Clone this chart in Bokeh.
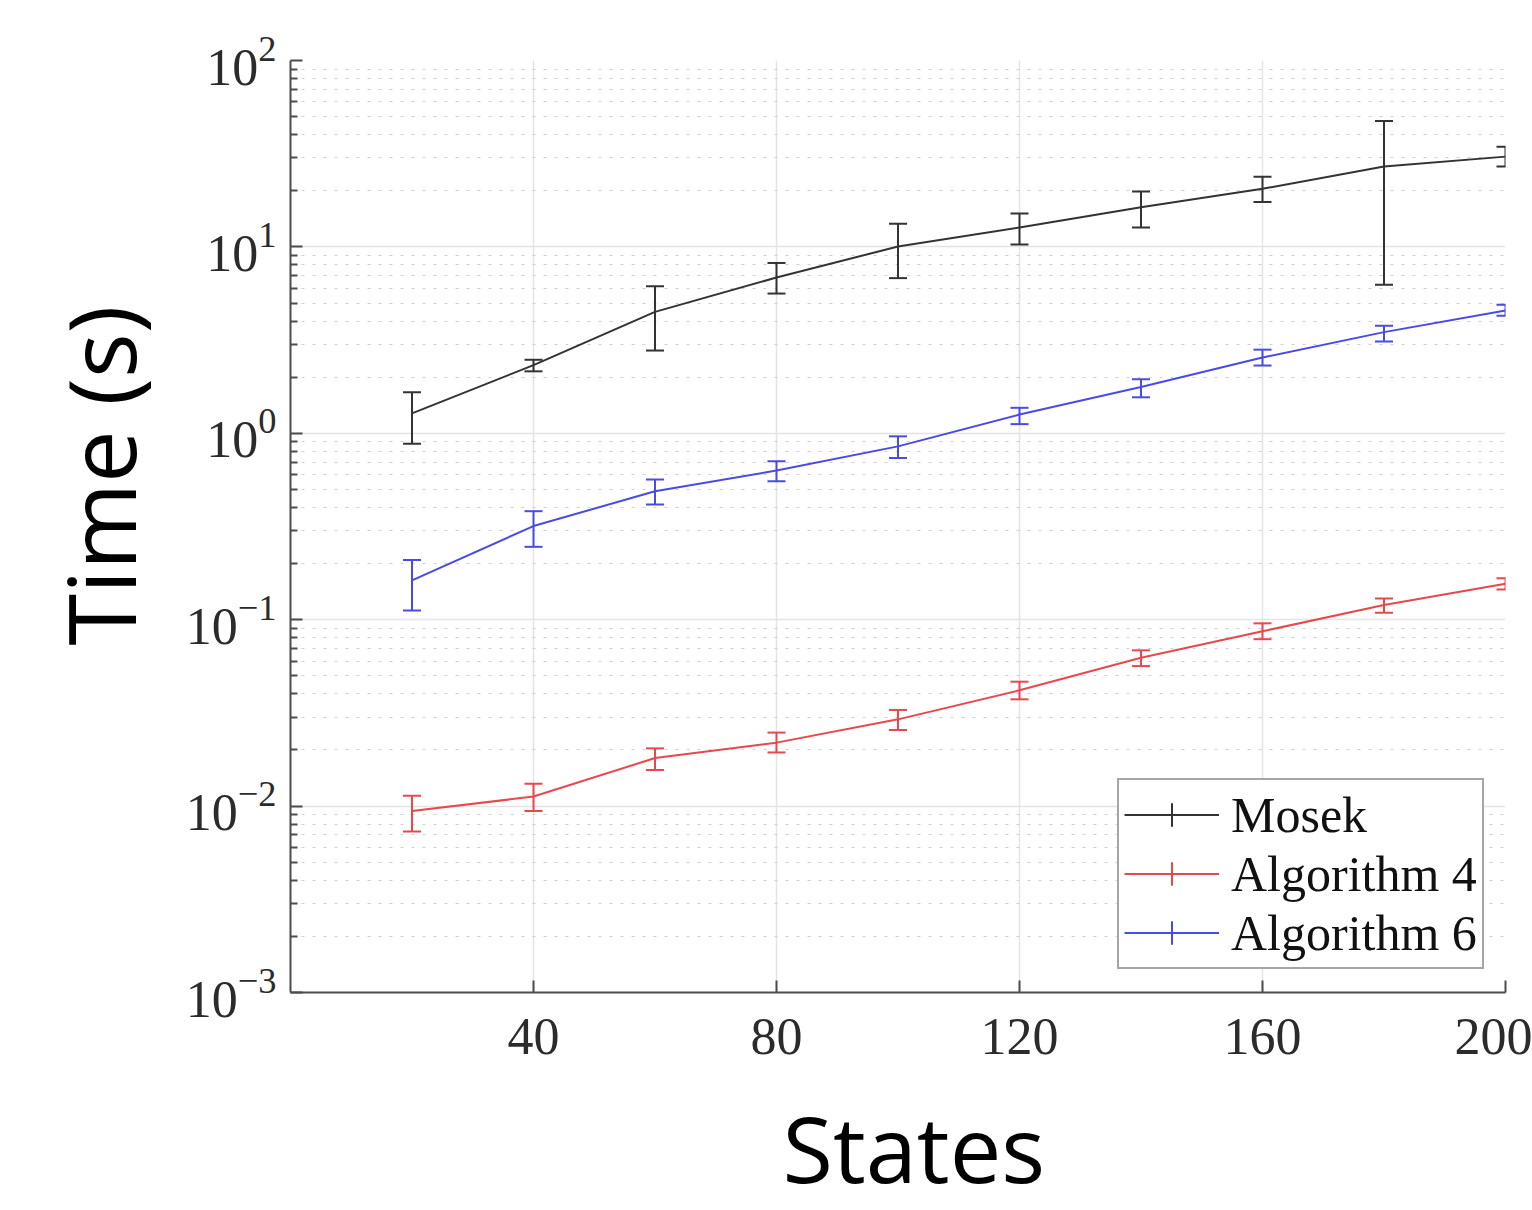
import numpy as np
from bokeh.plotting import figure
from bokeh.layouts import column
from bokeh.models import (ColumnDataSource, Whisker, TeeHead, Legend, LegendItem,
                          Label, Title, FixedTicker)
from bokeh.embed import file_html
from bokeh.resources import INLINE

# ---------------- data ----------------
states = [20, 40, 60, 80, 100, 120, 140, 160, 180, 200]

mosek = [1.28, 2.32, 4.48, 6.85, 10.05, 12.7, 16.3, 20.5, 27.0, 30.5]
mosek_lo = [0.88, 2.15, 2.78, 5.62, 6.8, 10.3, 12.7, 17.4, 6.27, 27.0]
mosek_hi = [1.66, 2.48, 6.15, 8.2, 13.3, 15.1, 19.8, 23.8, 47.4, 34.5]

alg4 = [0.0094, 0.01125, 0.0181, 0.0219, 0.0292, 0.0418, 0.0625, 0.0867, 0.1198, 0.156]
alg4_lo = [0.0073, 0.0094, 0.0156, 0.0194, 0.0256, 0.0374, 0.0564, 0.0786, 0.109, 0.145]
alg4_hi = [0.01135, 0.0132, 0.0204, 0.0248, 0.0328, 0.0465, 0.0685, 0.0956, 0.130, 0.167]

alg6 = [0.1625, 0.318, 0.489, 0.631, 0.851, 1.26, 1.77, 2.55, 3.49, 4.56]
alg6_lo = [0.112, 0.246, 0.415, 0.553, 0.737, 1.12, 1.56, 2.31, 3.11, 4.27]
alg6_hi = [0.209, 0.382, 0.565, 0.708, 0.963, 1.37, 1.95, 2.81, 3.78, 4.9]

x_ticks = [40, 80, 120, 160, 200]
y_decades = [1e-3, 1e-2, 1e-1, 1e0, 1e1, 1e2]

series_names = ["Mosek", "Algorithm 4", "Algorithm 6"]
series_colors = ["#333333", "#e8474c", "#4a4ae6"]

x_title = "States"
y_title = "Time (s)"

# ---------------- main figure ----------------
p = figure(width=1532, height=1082, y_axis_type="log",
           x_range=(0, 200), y_range=(1e-3, 1e2),
           output_backend="svg", toolbar_location=None,
           min_border_left=290, min_border_right=27,
           min_border_top=60, min_border_bottom=90)
p.outline_line_color = None
p.background_fill_color = "white"

minor = [m * d for d in y_decades[:-1] for m in range(2, 10)]
p.yaxis.ticker = FixedTicker(ticks=y_decades, minor_ticks=minor)
p.xaxis.ticker = FixedTicker(ticks=x_ticks)

for ax in (p.xaxis[0], p.yaxis[0]):
    ax.major_label_text_font = "Liberation Serif"
    ax.major_label_text_font_size = "52px"
    ax.major_label_text_color = "#2b2b2b"
    ax.axis_line_color = "#4d4d4d"
    ax.axis_line_width = 2
    ax.major_tick_line_color = "#4d4d4d"
    ax.major_tick_line_width = 2
    ax.minor_tick_line_color = "#4d4d4d"
    ax.minor_tick_line_width = 2
    ax.major_tick_in = 12
    ax.major_tick_out = 0
    ax.minor_tick_in = 7
    ax.minor_tick_out = 0
p.xaxis.major_label_standoff = 26
p.yaxis.major_label_standoff = 14

p.xgrid.grid_line_color = "#e4e4e4"
p.xgrid.grid_line_width = 1.5
p.ygrid.grid_line_color = "#e4e4e4"
p.ygrid.grid_line_width = 1.5
p.ygrid.minor_grid_line_color = "#cfcfcf"
p.ygrid.minor_grid_line_width = 1.2
p.ygrid.minor_grid_line_dash = "3 8"

# ---------------- series ----------------
series = [(mosek, mosek_lo, mosek_hi), (alg4, alg4_lo, alg4_hi), (alg6, alg6_lo, alg6_hi)]
items = []
for name, color, (ys, lo, hi) in zip(series_names, series_colors, series):
    src = ColumnDataSource(dict(x=states, y=ys, lo=lo, hi=hi))
    ln = p.line("x", "y", source=src, line_color=color, line_width=2)
    w = Whisker(base="x", lower="lo", upper="hi", source=src,
                line_color=color, line_width=2,
                upper_head=TeeHead(size=18, line_color=color, line_width=2),
                lower_head=TeeHead(size=18, line_color=color, line_width=2))
    p.add_layout(w)
    # zero-size cross: invisible in the plot, gives the "+" error-bar icon in the legend
    cr = p.scatter("x", "y", source=src, marker="cross", size=0,
                   line_color=color, line_width=2)
    items.append(LegendItem(label=name, renderers=[ln, cr]))

legend = Legend(items=items, location=(827, 23),
                label_text_font="Liberation Serif", label_text_font_size="50px",
                label_text_color="#111111",
                border_line_color="#4d4d4d", border_line_width=2,
                background_fill_color="white", background_fill_alpha=1,
                padding=5, spacing=0, glyph_width=95,
                glyph_height=59, label_height=59, label_standoff=12)
p.add_layout(legend)

ytitle = Title(text=y_title, align="left", offset=347, standoff=38,
               text_font="Open Sans", text_font_size="94px", text_font_style="normal",
               text_color="black")
p.add_layout(ytitle, "left")

# ---------------- strip under the plot holding the x-axis title ----------------
p2 = figure(width=1532, height=128, x_range=(0, 1), y_range=(0, 1),
            output_backend="svg", toolbar_location=None,
            x_axis_location=None, y_axis_location=None,
            min_border_left=290, min_border_right=27,
            min_border_top=0, min_border_bottom=0)
p2.outline_line_color = None
p2.background_fill_color = "white"
p2.border_fill_color = "white"
p2.xgrid.visible = False
p2.ygrid.visible = False
xlab = Label(x=492, y=63, x_units="screen", y_units="screen", text=x_title,
             text_align="left", text_baseline="alphabetic",
             text_font="Open Sans", text_font_size="92px", text_color="black")
p2.add_layout(xlab)

open("out.html", "w").write(file_html(column(p, p2, spacing=0), INLINE))
